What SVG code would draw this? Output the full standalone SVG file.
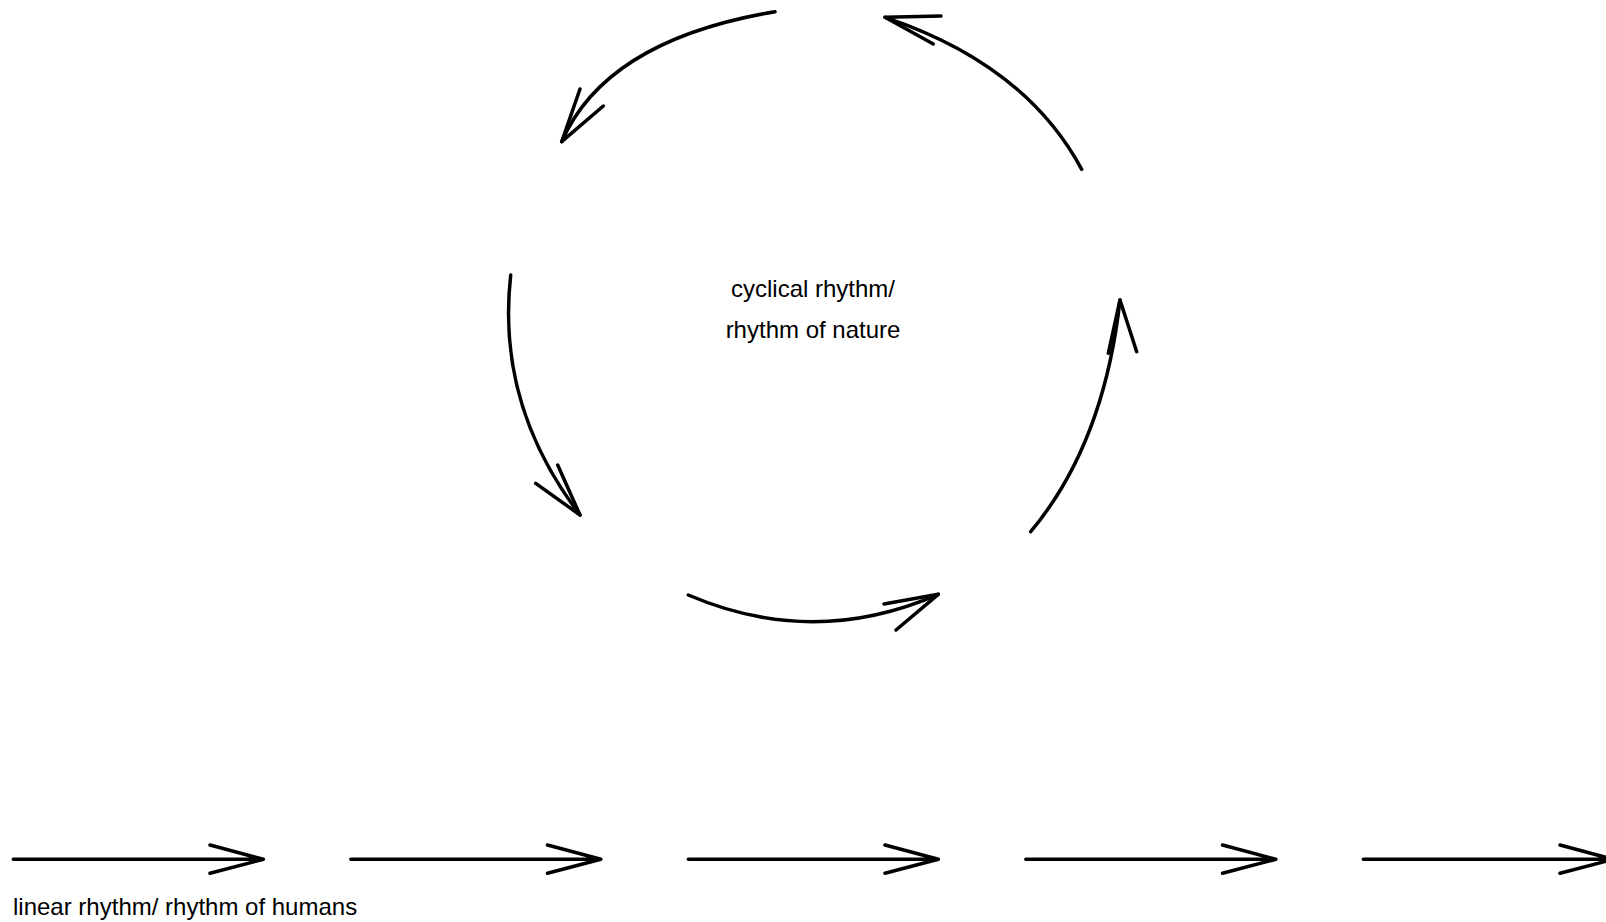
<svg xmlns="http://www.w3.org/2000/svg" width="1606" height="922" viewBox="0 0 1606 922">
<style>
.ln{fill:none;stroke:#000;stroke-width:3.5;stroke-linecap:round;stroke-linejoin:round}
.t{font-family:"Liberation Sans",Arial,sans-serif;font-size:24px;fill:#000}
</style>
<rect width="1606" height="922" fill="#fff"/>
<g id="connectors">
<g id="cycle-arrow-1"><path class="ln" d="M775,11.7 Q606,40 561.7,141.7"/><path class="ln" d="M580,89 L561.7,141.7 L603.3,106"/></g>
<g id="cycle-arrow-2"><path class="ln" d="M1081.7,169.3 Q1025,64 885,17.3"/><path class="ln" d="M941,16 L885,17.3 L933.3,44"/></g>
<g id="cycle-arrow-3"><path class="ln" d="M510.7,275 Q496,405 580,515"/><path class="ln" d="M535.7,483.3 L580,515 L557.7,465"/></g>
<g id="cycle-arrow-4"><path class="ln" d="M1030.7,531.7 Q1104,444 1120,300"/><path class="ln" d="M1108.3,353.3 L1120,300 L1136.7,351.7"/></g>
<g id="cycle-arrow-5"><path class="ln" d="M688.3,595 Q813.3,648.7 938.3,594.3"/><path class="ln" d="M884,604 L938.3,594.3 L896,630"/></g>
<g id="linear-arrows">
<path class="ln" d="M13.3,859.3 H263.3 M210,845 L263.3,859.3 L210,873.3"/>
<path class="ln" d="M350.8,859.3 H600.8 M547.5,845 L600.8,859.3 L547.5,873.3"/>
<path class="ln" d="M688.3,859.3 H938.3 M885,845 L938.3,859.3 L885,873.3"/>
<path class="ln" d="M1025.8,859.3 H1275.8 M1222.5,845 L1275.8,859.3 L1222.5,873.3"/>
<path class="ln" d="M1363.3,859.3 H1613.3 M1560,845 L1613.3,859.3 L1560,873.3"/>
</g>
</g>
<g id="label-cycle">
<text class="t" x="813" y="297" text-anchor="middle">cyclical rhythm/</text>
<text class="t" x="813" y="338" text-anchor="middle">rhythm of nature</text>
</g>
<g id="label-linear">
<text class="t" x="13" y="915">linear rhythm/ rhythm of humans</text>
</g>
</svg>
